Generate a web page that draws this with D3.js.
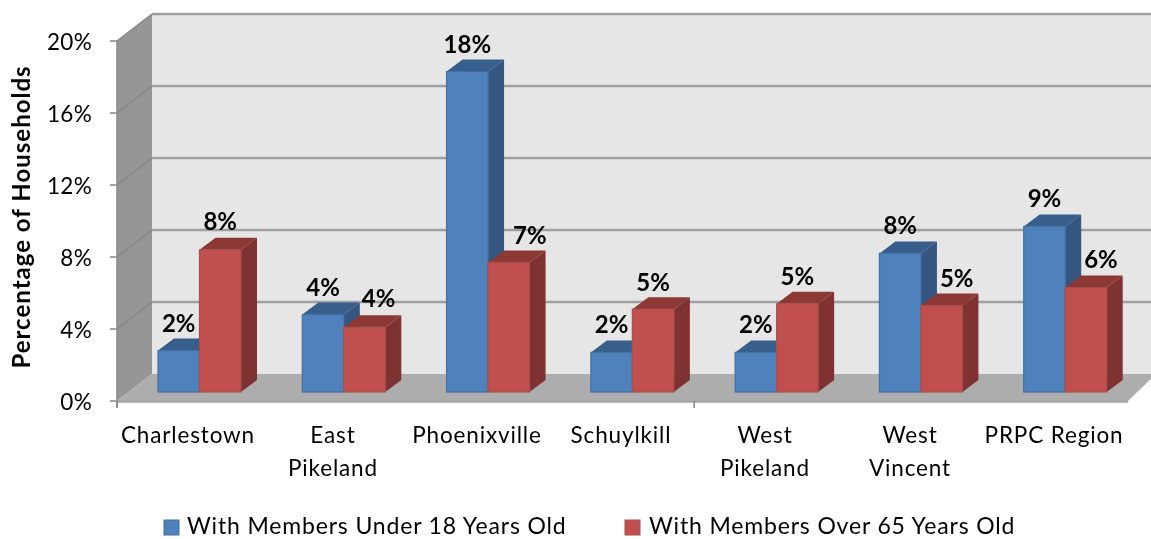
<!DOCTYPE html>
<html><head><meta charset="utf-8">
<script src="https://cdn.jsdelivr.net/npm/d3@7/dist/d3.min.js"></script>
<style>html,body{margin:0;background:#fff}svg{display:block}text{font-family:Lato,"Open Sans",sans-serif;fill:#000}</style>
</head><body><svg id="c" width="1151" height="539"></svg>
<script>
const categories=[["Charlestown"],["East","Pikeland"],["Phoenixville"],["Schuylkill"],["West","Pikeland"],["West","Vincent"],["PRPC Region"]];
const under18=[2.3,4.3,17.8,2.2,2.2,7.7,9.2];
const over65=[7.9,3.6,7.2,4.6,4.9,4.8,5.8];
const labels18=["2%","4%","18%","2%","2%","8%","9%"];
const labels65=["8%","4%","7%","5%","5%","5%","6%"];
const yTicks=[0,4,8,12,16,20];
const seriesNames=["With Members Under 18 Years Old","With Members Over 65 Years Old"];
const svg=d3.select("#c");
svg.append("defs").append("filter").attr("id","soft")
 .attr("filterUnits","userSpaceOnUse").attr("x",0).attr("y",0).attr("width",1151).attr("height",539)
 .append("feGaussianBlur").attr("stdDeviation",0.45);
const x=d3.scaleBand().domain(d3.range(7)).range([117,1127]).paddingInner(0).paddingOuter(0);
const y=d3.scaleLinear().domain([0,20]).range([401,41]);
const DX=35,DY=-27;
const bDX=16,bDY=-12,baseOff=-9;
const redLabelShift=[0,14,21,0,0,15,15];
const redLabelLift=[20,20,18,18,19,19,20];
const poly=(g,pts,fill,stroke)=>g.append("polygon").attr("points",pts.map(p=>p.join(",")).join(" ")).attr("fill",fill).attr("stroke",stroke||"none");
const g=svg.append("g").attr("filter","url(#soft)");
const x0=117,x1=x.range()[1]+1;
// walls
poly(g,[[x0+DX,y(20)+DY],[1151+40,y(20)+DY],[1151+40,y(0)+DY],[x0+DX,y(0)+DY]],"#e6e6e6");
poly(g,[[x0,y(20)],[x0+DX,y(20)+DY],[x0+DX,y(0)+DY],[x0,y(0)]],"#969696");
poly(g,[[x0,y(0)],[x0+DX,y(0)+DY],[1151+5,y(0)+DY],[x1,y(0)]],"#adadad");
// grid
yTicks.forEach(t=>{
 if(t>0){g.append("line").attr("x1",x0+DX).attr("x2",1151).attr("y1",y(t)+DY).attr("y2",y(t)+DY).attr("stroke","#a0a0a0").attr("stroke-width",2.4);
 g.append("line").attr("x1",x0).attr("x2",x0+DX).attr("y1",y(t)).attr("y2",y(t)+DY).attr("stroke","#858585").attr("stroke-width",1.5);}
});
// front edge
g.append("line").attr("x1",x0).attr("x2",x1).attr("y1",y(0)+.5).attr("y2",y(0)+.5).attr("stroke","#a6a6a6").attr("stroke-width",2.4);
g.append("line").attr("x1",x0).attr("x2",x0).attr("y1",y(20)).attr("y2",y(0)+7).attr("stroke","#8c8c8c").attr("stroke-width",1.6);
yTicks.forEach(t=>g.append("line").attr("x1",x0-7).attr("x2",x0).attr("y1",y(t)).attr("y2",y(t)).attr("stroke","#8c8c8c").attr("stroke-width",1.6));
[0,4].forEach(i=>g.append("line").attr("x1",x(i)).attr("x2",x(i)).attr("y1",y(0)).attr("y2",y(0)+7).attr("stroke","#8c8c8c").attr("stroke-width",1.6));
// bars
const bw=41.5, start=41;
function bar(i,k,v,cf,ct,cs,line){
 const l=x(i)+start+k*bw,r=l+bw,b=y(0)+baseOff,t=b-(y(0)-y(v));
 poly(g,[[r,t],[r+bDX,t+bDY],[r+bDX,b+bDY],[r,b]],cs);
 poly(g,[[l,t],[l+bDX,t+bDY],[r+bDX,t+bDY],[r,t]],ct);
 g.append("rect").attr("x",l).attr("y",t).attr("width",bw).attr("height",b-t).attr("fill",cf).attr("stroke",line).attr("stroke-width",1.2);
}
const C=[["#4f81bd","#375f8c","#345781","#44709f"],["#c0504d","#8c3836","#7f3230","#a8504e"]];
d3.range(7).forEach(i=>{
 bar(i,0,under18[i],...C[0]);
 bar(i,1,over65[i],...C[1]);
});
// labels
d3.range(7).forEach(i=>{
 [[under18,labels18,0],[over65,labels65,1]].forEach(([vals,labs,k])=>{
  const px=x(i)+start+k*bw+bw/2+(k?redLabelShift[i]:0), py=y(0)+baseOff-(y(0)-y(vals[i]))-(k?redLabelLift[i]:19);
  g.append("text").attr("x",px).attr("y",py).attr("text-anchor","middle").attr("font-size",24).attr("font-weight",700).text(labs[i]);
 });
});
// axis labels
yTicks.forEach(t=>g.append("text").attr("x",92).attr("y",y(t)+9).attr("text-anchor","end").attr("font-size",22.5).attr("letter-spacing",.3).text(t+"%"));
g.append("text").attr("transform","translate(30,217) rotate(-90)").attr("text-anchor","middle").attr("font-size",24).attr("font-weight",700).attr("letter-spacing",1).text("Percentage of Households");
const catCenters=[188,333,477,621,765,910,1054];
categories.forEach((c,i)=>c.forEach((s,j)=>g.append("text").attr("x",catCenters[i]).attr("y",443+j*32.5).attr("text-anchor","middle").attr("font-size",22.5).attr("letter-spacing",.85).text(s)));
// legend
[[164,"#4f81bd","#44709f",187],[625,"#c0504d","#a8504e",649]].forEach((d,i)=>{
 g.append("rect").attr("x",d[0]).attr("y",520).attr("width",15).attr("height",15).attr("fill",d[1]).attr("stroke",d[2]);
 g.append("text").attr("x",d[3]).attr("y",534).attr("font-size",23).attr("letter-spacing",.84).text(seriesNames[i]);
});
</script></body></html>
